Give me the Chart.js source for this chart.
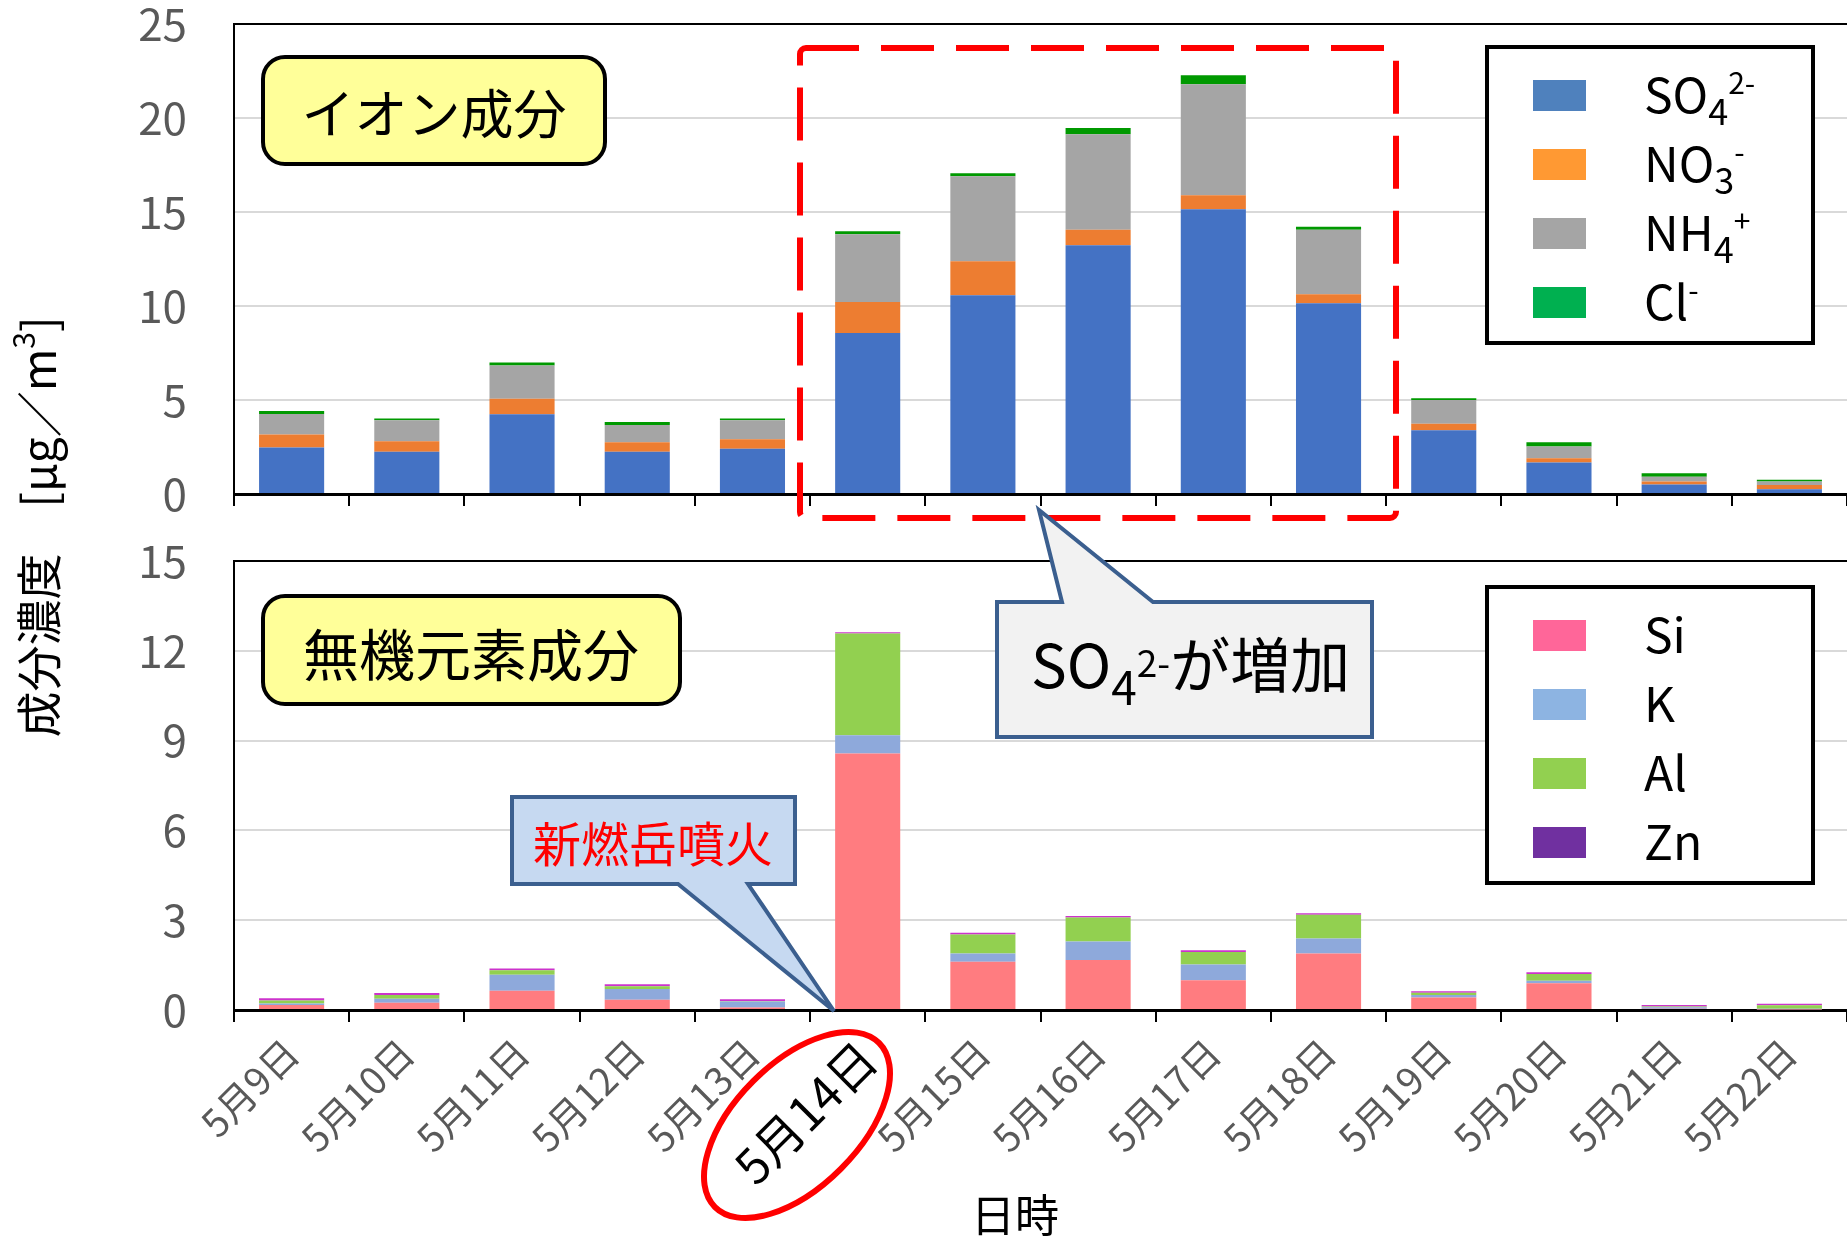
<!DOCTYPE html>
<html lang="ja">
<head>
<meta charset="utf-8">
<title>成分濃度</title>
<script src="https://cdn.jsdelivr.net/npm/chart.js@4.4.1/dist/chart.umd.min.js"></script>
<style>
  html, body { margin: 0; padding: 0; background: #fff; }
  #wrap { position: relative; width: 1847px; height: 1236px; overflow: hidden; }
  canvas { position: absolute; left: 0; }
  #ionChart { top: 0; }
  #elemChart { top: 520px; }
  #notes { position: absolute; left: 0; top: 0; font-family: 'Noto Sans CJK JP', sans-serif; }
</style>
</head>
<body>
<div id="wrap">
  <canvas id="ionChart" width="1847" height="520"></canvas>
  <canvas id="elemChart" width="1847" height="716"></canvas>
  <svg id="notes" width="1847" height="1236" xmlns="http://www.w3.org/2000/svg">
    <!-- axis titles -->
    <text transform="translate(36,527) rotate(-90)" text-anchor="middle" dominant-baseline="central" font-size="46" fill="#000">成分濃度　[μg／m<tspan font-size="30" dy="-14">3</tspan><tspan dy="14">]</tspan></text>
    <text x="1015" y="1213" text-anchor="middle" dominant-baseline="central" font-size="44" fill="#000">日時</text>

    <!-- panel captions -->
    <rect x="263" y="57" width="342" height="107" rx="22" fill="#FFFF99" stroke="#000" stroke-width="4"/>
    <text x="434" y="111" text-anchor="middle" dominant-baseline="central" font-size="53" fill="#000">イオン成分</text>
    <rect x="263" y="596" width="417" height="108" rx="22" fill="#FFFF99" stroke="#000" stroke-width="4"/>
    <text x="471" y="651" text-anchor="middle" dominant-baseline="central" font-size="56" fill="#000">無機元素成分</text>

    <!-- sulfate peak box -->
    <rect x="800" y="48" width="596" height="470" rx="6" fill="none" stroke="#FF0000" stroke-width="6" stroke-dasharray="53 22"/>

    <!-- callouts -->
    <path d="M997,602 L1062,602 L1039,510 L1153,602 L1372,602 L1372,737 L997,737 Z" fill="#F2F2F2" stroke="#3B5F8F" stroke-width="4"/>
    <text x="1031" y="688" font-size="60" fill="#000">SO<tspan font-size="46" dy="17">4</tspan><tspan font-size="37" dy="-28">2-</tspan><tspan dy="11">が増加</tspan></text>
    <path d="M512,797 L795,797 L795,884 L748,884 L834,1011 L678,884 L512,884 Z" fill="#C6D9F1" stroke="#3B5F8F" stroke-width="4"/>
    <text x="653" y="841" text-anchor="middle" dominant-baseline="central" font-size="48" fill="#FF0000">新燃岳噴火</text>

    <!-- eruption day marker -->
    <ellipse cx="797" cy="1125" rx="116" ry="62" transform="rotate(-45 797 1125)" fill="none" stroke="#FF0000" stroke-width="6"/>

    <!-- legends -->
    <g id="ionLegend"></g>
    <g id="elemLegend"></g>
  </svg>
</div>
<script>
const categories = ['5月9日', '5月10日', '5月11日', '5月12日', '5月13日', '5月14日', '5月15日',
                    '5月16日', '5月17日', '5月18日', '5月19日', '5月20日', '5月21日', '5月22日'];
const eruptionDay = categories.indexOf('5月14日');

// ion components [µg/m3]
const so4 = [2.48, 2.25, 4.24, 2.25, 2.41, 8.56, 10.57, 13.23, 15.14, 10.14, 3.39, 1.68, 0.50, 0.25];
const no3 = [0.68, 0.55, 0.83, 0.50, 0.50, 1.65, 1.81, 0.83, 0.75, 0.48, 0.35, 0.22, 0.17, 0.23];
const nh4 = [1.10, 1.12, 1.77, 0.92, 1.01, 3.60, 4.52, 5.07, 5.90, 3.44, 1.26, 0.62, 0.25, 0.19];
const cl  = [0.15, 0.09, 0.15, 0.16, 0.09, 0.16, 0.16, 0.34, 0.48, 0.16, 0.09, 0.23, 0.18, 0.09];

// inorganic elements [µg/m3]
const si = [0.17, 0.24, 0.64, 0.34, 0.08, 8.57, 1.61, 1.67, 0.99, 1.89, 0.42, 0.89, 0.04, 0.02];
const k  = [0.05, 0.14, 0.54, 0.36, 0.20, 0.61, 0.28, 0.62, 0.53, 0.50, 0.08, 0.09, 0.05, 0.02];
const al = [0.10, 0.12, 0.15, 0.09, 0.02, 3.40, 0.63, 0.80, 0.42, 0.79, 0.08, 0.22, 0.03, 0.12];
const zn = [0.07, 0.07, 0.06, 0.07, 0.06, 0.04, 0.06, 0.05, 0.06, 0.05, 0.05, 0.06, 0.05, 0.05];

const ionTicks = [0, 5, 10, 15, 20, 25];
const elemTicks = [0, 3, 6, 9, 12, 15];

Chart.defaults.font.family = "'Noto Sans CJK JP', sans-serif";
Chart.defaults.animation = false;

function makeOptions(tickValues, topPad, xHeight, showLabels) {
  const yMax = tickValues[tickValues.length - 1];
  return {
    responsive: false,
    devicePixelRatio: 1,
    layout: { padding: { top: topPad, left: 0, right: 0, bottom: 0 } },
    plugins: { legend: { display: false }, tooltip: { enabled: false } },
    scales: {
      x: {
        stacked: true,
        grid: { drawOnChartArea: false, drawTicks: true, tickLength: 12, color: '#000', lineWidth: 2, offset: true },
        border: { display: true, color: '#000', width: 3 },
        ticks: {
          display: showLabels,
          autoSkip: false,
          minRotation: 45,
          maxRotation: 45,
          padding: 8,
          color: c => c.index === eruptionDay ? '#000' : '#595959',
          font: c => c.index === eruptionDay ? { size: 48 } : { size: 38 }
        },
        afterFit: s => { s.height = xHeight; s.paddingLeft = 0; s.paddingRight = 0; }
      },
      y: {
        stacked: true,
        min: 0,
        max: yMax,
        afterBuildTicks: s => { s.ticks = tickValues.map(v => ({ value: v })); },
        ticks: { color: '#595959', font: { size: 44 }, padding: 47 },
        grid: {
          drawTicks: false,
          lineWidth: 2,
          color: c => c.tick && c.tick.value === yMax ? '#000' : '#d9d9d9'
        },
        border: { display: true, color: '#000', width: 2 },
        afterFit: s => { s.width = 234; s.paddingTop = 0; s.paddingBottom = 0; }
      }
    }
  };
}

function bars(label, data, color) {
  return { label, data, backgroundColor: color, borderWidth: 0, categoryPercentage: 1, barPercentage: 0.565 };
}

new Chart(document.getElementById('ionChart'), {
  type: 'bar',
  data: {
    labels: categories,
    datasets: [
      bars('SO4', so4, '#4472C4'),
      bars('NO3', no3, '#ED7D31'),
      bars('NH4', nh4, '#A5A5A5'),
      bars('Cl', cl, '#009900')
    ]
  },
  options: makeOptions(ionTicks, 24, 26, false)
});

new Chart(document.getElementById('elemChart'), {
  type: 'bar',
  data: {
    labels: categories,
    datasets: [
      bars('Si', si, '#FF7C80'),
      bars('K', k, '#8EA9DB'),
      bars('Al', al, '#92D050'),
      bars('Zn', zn, '#CC33CC')
    ]
  },
  options: makeOptions(elemTicks, 41, 226, true)
});

// legend boxes (swatch colours differ slightly from the bar fills)
function legend(groupId, top, items) {
  const g = document.getElementById(groupId);
  let html = `<rect x="1487" y="${top}" width="326" height="296" fill="#fff" stroke="#000" stroke-width="4"/>`;
  items.forEach((it, i) => {
    const y = top + 33 + i * 69;
    html += `<rect x="1533" y="${y}" width="53" height="31" fill="${it.color}"/>`;
    let t = `<text x="1644" y="${y + 33}" font-size="48" fill="#000">${it.name}`;
    if (it.sub) t += `<tspan font-size="36" dy="12">${it.sub}</tspan>`;
    if (it.sup) t += `<tspan font-size="30" dy="${it.sub ? -31 : -19}">${it.sup}</tspan>`;
    html += t + '</text>';
  });
  g.innerHTML = html;
}

legend('ionLegend', 47, [
  { name: 'SO', sub: '4', sup: '2-', color: '#4F81BD' },
  { name: 'NO', sub: '3', sup: '-', color: '#FF9933' },
  { name: 'NH', sub: '4', sup: '+', color: '#A5A5A5' },
  { name: 'Cl', sup: '-', color: '#00B050' }
]);
legend('elemLegend', 587, [
  { name: 'Si', color: '#FF6699' },
  { name: 'K', color: '#8DB4E2' },
  { name: 'Al', color: '#92D050' },
  { name: 'Zn', color: '#7030A0' }
]);
</script>
</body>
</html>
